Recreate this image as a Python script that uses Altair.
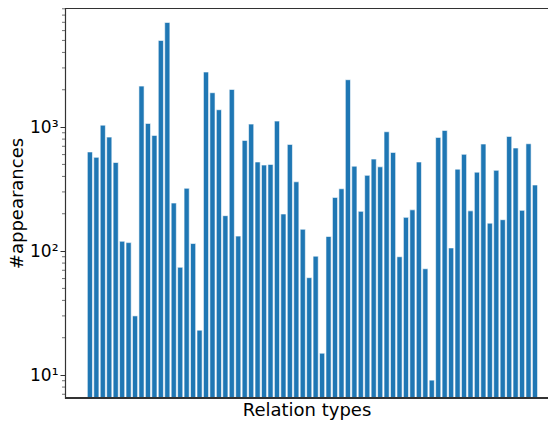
import altair as alt
import pandas as pd

values = [630, 570, 1037, 830, 518, 120, 117, 30, 2140, 1071,
          857, 5000, 6980, 244, 74, 321, 115, 23, 2780, 1893,
          1380, 193, 2012, 132, 781, 1057, 523, 494, 500, 1118,
          199, 725, 362, 150, 61, 91, 15, 131, 271, 318,
          2410, 484, 209, 408, 552, 478, 917, 625, 90, 187,
          215, 523, 72, 9.1, 826, 940, 106, 458, 603, 211,
          433, 730, 168, 448, 179, 841, 678, 213, 734, 341]
index = list(range(len(values)))
major_ticks = [10, 100, 1000]
minor_ticks = [7, 8, 9, 20, 30, 40, 50, 60, 70, 80, 90,
               200, 300, 400, 500, 600, 700, 800, 900,
               2000, 3000, 4000, 5000, 6000, 7000, 8000, 9000]

df = pd.DataFrame({"idx": index, "count": values})
df_minor = pd.DataFrame({"v": minor_ticks})

W, H = 483, 390
yscale = alt.Scale(type="log", domain=[6.53, 9130], nice=False)
xscale = alt.Scale(domain=[-3.86, 71.02], nice=False, zero=False)

bars = alt.Chart(df).transform_calculate(
    x0="datum.idx - 0.4", x1="datum.idx + 0.4", base="6.53"
).mark_bar(color="#1f77b4", stroke="white", strokeWidth=0.6).encode(
    x=alt.X("x0:Q", scale=xscale,
            axis=alt.Axis(title="Relation types", labels=False, ticks=False, domain=False,
                          grid=False,
                          titleFont="DejaVu Sans", titleFontSize=18,
                          titleFontWeight="normal", titleColor="black",
                          titlePadding=3)),
    x2="x1:Q",
    y=alt.Y("count:Q", scale=yscale,
            axis=alt.Axis(title="#appearances", values=major_ticks,
                          labelExpr="datum.value == 10 ? '10¹' : datum.value == 100 ? '10²' : '10³'",
                          labelFont="DejaVu Sans", labelFontSize=17, labelColor="black",
                          tickSize=5, tickColor="#333333", tickWidth=1,
                          domainColor="#333333", domainWidth=1.2,
                          labelPadding=2, grid=False,
                          titleFont="DejaVu Sans", titleFontSize=18,
                          titleFontWeight="normal", titleColor="black",
                          titlePadding=3)),
    y2="base:Q",
)

minor = alt.Chart(df_minor).mark_rule(color="#333333", strokeWidth=0.7).encode(
    y=alt.Y("v:Q", scale=yscale),
    x=alt.value(-3),
    x2=alt.value(0),
)

top_line = alt.Chart(df_minor).mark_rule(color="#333333", strokeWidth=1.2).encode(
    x=alt.value(0), x2=alt.value(W), y=alt.value(0)
)
bottom_line = alt.Chart(df_minor).mark_rule(color="#333333", strokeWidth=1.2).encode(
    x=alt.value(0), x2=alt.value(W), y=alt.value(H)
)

chart = alt.layer(bars, minor, top_line, bottom_line).properties(
    width=W, height=H,
    autosize=alt.AutoSizeParams(type="none"),
    padding={"left": 57, "top": 0, "right": 0, "bottom": 26},
).configure_view(stroke=None).configure_axis(domainCap="square")

chart.save("out.html", embed_options={"renderer": "svg", "actions": False})
